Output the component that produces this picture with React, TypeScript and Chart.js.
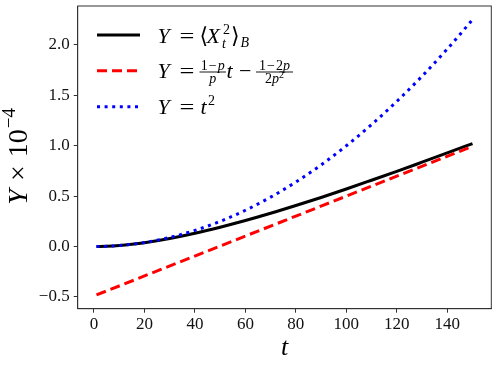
import React, { useEffect, useRef } from "react";
import { Chart, registerables } from "chart.js";

Chart.register(...registerables);

// ---- data (values in units of 1e-4) ----
const tValues = [1, 5, 10, 15, 20, 30, 40, 50, 60, 70, 80, 90, 100, 110, 120, 130, 140, 150];
const blackValues = [0.0001, 0.0025, 0.0098, 0.022, 0.038, 0.08, 0.132, 0.192, 0.258, 0.33, 0.407, 0.487, 0.571, 0.658, 0.746, 0.837, 0.929, 1.022];
const blueValues = [0.0001, 0.0025, 0.01, 0.0225, 0.04, 0.09, 0.16, 0.25, 0.36, 0.49, 0.64, 0.81, 1.0, 1.21, 1.44, 1.69, 1.96, 2.25];
const redT = [1, 150];
const redValues = [-0.48, 0.995];
const xTicks = [0, 20, 40, 60, 80, 100, 120, 140];
const yTicks = [-0.5, 0, 0.5, 1.0, 1.5, 2.0];
const xRange = [-6.45, 157.45];
const yRange = [-0.6165, 2.3865];

const SERIF = '"Liberation Serif", "DejaVu Serif", serif';

type Seg = { text: string; size: number; italic?: boolean; dy?: number; dx?: number; at?: number; sx?: number };

function setFont(ctx: CanvasRenderingContext2D, s: Seg) {
  ctx.font = `${s.italic ? "italic " : ""}${s.size}px ${SERIF}`;
}

function drawSegs(ctx: CanvasRenderingContext2D, x: number, baseline: number, segs: Seg[]): number {
  let cx = x;
  for (const s of segs) {
    if (s.at !== undefined) cx = s.at;
    cx += s.dx || 0;
    setFont(ctx, s);
    const sx = s.sx || 1;
    ctx.save();
    ctx.translate(cx, baseline + (s.dy || 0));
    ctx.scale(sx, 1);
    ctx.fillText(s.text, 0, 0);
    ctx.restore();
    cx += ctx.measureText(s.text).width * sx;
  }
  return cx;
}

function segsWidth(ctx: CanvasRenderingContext2D, segs: Seg[]): number {
  let w = 0;
  for (const s of segs) {
    w += s.dx || 0;
    setFont(ctx, s);
    w += ctx.measureText(s.text).width * (s.sx || 1);
  }
  return w;
}

function drawFrac(ctx: CanvasRenderingContext2D, x0: number, x1: number, axisY: number, num: Seg[], den: Seg[]) {
  const wn = segsWidth(ctx, num);
  const wd = segsWidth(ctx, den);
  ctx.fillRect(x0, axisY - 0.45, x1 - x0, 0.9);
  drawSegs(ctx, (x0 + x1 - wn) / 2, axisY - 2.2, num);
  drawSegs(ctx, (x0 + x1 - wd) / 2, axisY + 10.5, den);
}

const mathPlugin = {
  id: "mathText",
  afterDraw(chart: any) {
    const ctx: CanvasRenderingContext2D = chart.ctx;
    const area = chart.chartArea;
    ctx.save();
    ctx.fillStyle = "#000";
    ctx.textBaseline = "alphabetic";
    ctx.textAlign = "left";

    // y-axis title: Y x 10^-4
    const ySegs: Seg[] = [
      { text: "Y", size: 28, italic: true },
      { text: "×", size: 28, dx: 8 },
      { text: "10", size: 28, dx: 8 },
      { text: "−4", size: 19, dy: -12, dx: 1 },
    ];
    const tw = segsWidth(ctx, ySegs);
    ctx.save();
    ctx.translate(26.5, (area.top + area.bottom) / 2 - 1);
    ctx.rotate(-Math.PI / 2);
    drawSegs(ctx, -tw / 2, 0, ySegs);
    ctx.restore();

    // legend line samples
    const ds = chart.data.datasets;
    const rowsY = [35, 70.7, 106.7];
    [0, 1, 2].forEach((di, r) => {
      const d = ds[di];
      ctx.save();
      ctx.strokeStyle = d.borderColor;
      ctx.lineWidth = d.borderWidth;
      ctx.setLineDash(d.borderDash || []);
      ctx.lineCap = "butt";
      ctx.beginPath();
      ctx.moveTo(97, rowsY[r]);
      ctx.lineTo(140, rowsY[r]);
      ctx.stroke();
      ctx.restore();
    });

    const F = 22;
    const S = 14;
    const Fr = 14;
    const b = [43, 78, 113.5];
    const eq: Seg = { text: "=", size: F, at: 179.5, sx: 1.2 };
    // row 1: Y = <X_t^2>_B
    drawSegs(ctx, 0, b[0], [
      { text: "Y", size: F, italic: true, at: 157.5 },
      eq,
      { text: "⟨", size: F, at: 199.5 },
      { text: "X", size: F, italic: true, at: 206.5 },
    ]);
    drawSegs(ctx, 0, b[0], [
      { text: "2", size: S, dy: -9, at: 223 },
      { text: "t", size: S, italic: true, dy: 5, at: 222 },
      { text: "⟩", size: F, at: 231 },
      { text: "B", size: S, italic: true, dy: 4, at: 240.5 },
    ]);
    // row 2: Y = (1-p)/p t - (1-2p)/(2p^2)
    drawSegs(ctx, 0, b[1], [
      { text: "Y", size: F, italic: true, at: 157.5 },
      eq,
      { text: "t", size: F, italic: true, at: 226.5 },
      { text: "−", size: F, at: 239 },
    ]);
    const axis2 = b[1] - 6;
    drawFrac(ctx, 199.5, 226, axis2,
      [{ text: "1", size: Fr }, { text: "−", size: Fr, dx: 1 }, { text: "p", size: Fr, italic: true, dx: 1 }],
      [{ text: "p", size: Fr, italic: true }]);
    drawFrac(ctx, 256, 293, axis2,
      [{ text: "1", size: Fr }, { text: "−", size: Fr, dx: 1 }, { text: "2", size: Fr, dx: 1 }, { text: "p", size: Fr, italic: true }],
      [{ text: "2", size: Fr }, { text: "p", size: Fr, italic: true }, { text: "2", size: 10, dy: -5 }]);
    // row 3: Y = t^2
    drawSegs(ctx, 0, b[2], [
      { text: "Y", size: F, italic: true, at: 157.5 },
      eq,
      { text: "t", size: F, italic: true, at: 200.5 },
      { text: "2", size: S, dy: -9, at: 208 },
    ]);
    ctx.restore();
  },
};

export default function App() {
  const canvasRef = useRef<HTMLCanvasElement | null>(null);

  useEffect(() => {
    if (!canvasRef.current) return;
    const chart = new Chart(canvasRef.current, {
      type: "line",
      data: {
        datasets: [
          {
            label: "Y = ⟨X_t^2⟩_B",
            data: tValues.map((t, i) => ({ x: t, y: blackValues[i] })),
            borderColor: "#000000",
            borderWidth: 3,
            pointRadius: 0,
            cubicInterpolationMode: "monotone",
            fill: false,
            order: 2,
          },
          {
            label: "Y = (1−p)/p t − (1−2p)/(2p²)",
            data: redT.map((t, i) => ({ x: t, y: redValues[i] })),
            borderColor: "#ff0000",
            borderWidth: 3,
            borderDash: [10, 5],
            pointRadius: 0,
            fill: false,
            order: 1,
          },
          {
            label: "Y = t²",
            data: tValues.map((t, i) => ({ x: t, y: blueValues[i] })),
            borderColor: "#0000ff",
            borderWidth: 3,
            borderDash: [3, 4.6],
            pointRadius: 0,
            cubicInterpolationMode: "monotone",
            fill: false,
            order: 0,
          },
        ],
      } as any,
      options: {
        animation: false,
        responsive: true,
        maintainAspectRatio: false,
        layout: { padding: { top: 6, right: 6.7, left: 0, bottom: 0 } },
        plugins: {
          legend: { display: false },
          tooltip: { enabled: false },
        },
        scales: {
          x: {
            type: "linear",
            min: xRange[0],
            max: xRange[1],
            afterBuildTicks: (scale: any) => {
              scale.ticks = xTicks.map((v) => ({ value: v }));
            },
            afterFit: (scale: any) => {
              scale.height = 58.3;
              scale.paddingLeft = 0;
              scale.paddingRight = 0;
            },
            grid: { drawOnChartArea: false, drawTicks: true, tickLength: 4, tickColor: "#333" },
            border: { color: "#333", width: 1 },
            ticks: {
              color: "#111",
              font: { family: SERIF, size: 17 },
              padding: 2,
              maxRotation: 0,
              callback: (v: any) => String(v),
            },
            title: {
              display: true,
              text: "t",
              color: "#000",
              font: { family: SERIF, size: 26, style: "italic" },
              padding: { top: 0, bottom: 3 },
            },
          },
          y: {
            type: "linear",
            min: yRange[0],
            max: yRange[1],
            afterBuildTicks: (scale: any) => {
              scale.ticks = yTicks.map((v) => ({ value: v }));
            },
            afterFit: (scale: any) => {
              scale.width = 77.7;
              scale.paddingTop = 0;
              scale.paddingBottom = 0;
            },
            grid: { drawOnChartArea: false, drawTicks: true, tickLength: 4, tickColor: "#333" },
            border: { color: "#333", width: 1 },
            ticks: {
              color: "#111",
              font: { family: SERIF, size: 17 },
              padding: 4,
              callback: (v: any) => (v < 0 ? "−" + Math.abs(v).toFixed(1) : Number(v).toFixed(1)),
            },
          },
        },
      } as any,
      plugins: [
        mathPlugin,
        {
          id: "frame",
          afterDatasetsDraw(chart: any) {
            const { ctx, chartArea: a } = chart;
            ctx.save();
            ctx.strokeStyle = "#333";
            ctx.lineWidth = 1;
            ctx.strokeRect(a.left, a.top, a.right - a.left, a.bottom - a.top);
            ctx.restore();
          },
        },
      ],
    });
    return () => chart.destroy();
  }, []);

  return (
    <div style={{ position: "absolute", left: 0, top: 0, width: 498, height: 367, background: "#fff" }}>
      <canvas ref={canvasRef} />
    </div>
  );
}
